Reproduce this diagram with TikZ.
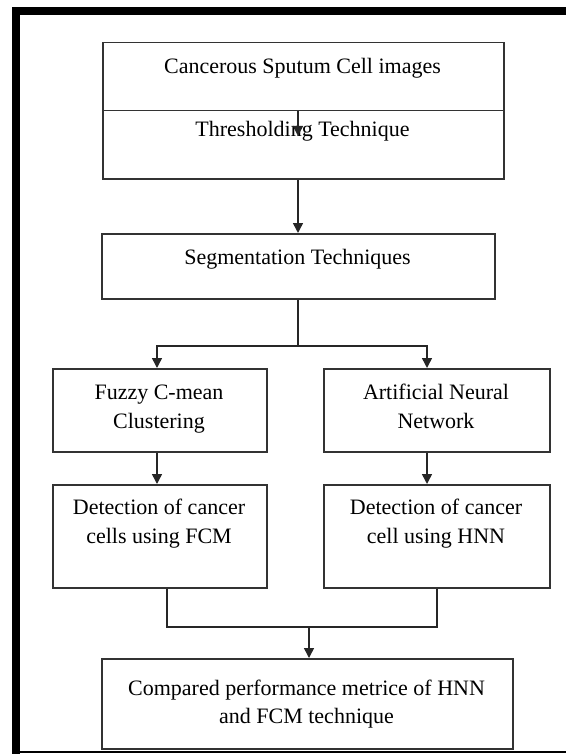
\documentclass[tikz,border=0pt]{standalone}
\usepackage{fontspec}
\setmainfont{Liberation Serif}
\usetikzlibrary{arrows.meta}

\begin{document}
\begin{tikzpicture}[x=1pt,y=-1pt,
  box/.style={draw=black!80, line width=1.5pt, rectangle, inner sep=0pt, anchor=north west},
  txt/.style={anchor=base, inner sep=0pt, font=\fontsize{22}{28}\selectfont},
  link/.style={draw=black!85, line width=1.5pt},
  arr/.style={link, -{Triangle[width=10pt,length=10pt]}},
  frame/.style={fill=black, draw=none}]
\useasboundingbox (0,0) rectangle (566,754);

% heavy frame on the top and left, thin rule at the bottom
\fill[frame] (12,7) rectangle (566,15);
\fill[frame] (12,7) rectangle (20,754);
\fill[frame] (12,751) rectangle (566,753);

% boxes
\node[box, minimum width=401pt, minimum height=68pt] (img) at (102,42) {};
\node[box, minimum width=401pt, minimum height=68pt] (thr) at (102,110) {};
\node[box, minimum width=393pt, minimum height=65pt] (seg) at (101,233) {};
\node[box, minimum width=214pt, minimum height=83pt] (fcm) at (52,368) {};
\node[box, minimum width=226pt, minimum height=83pt] (ann) at (323,368) {};
\node[box, minimum width=214pt, minimum height=103pt] (detf) at (52,484) {};
\node[box, minimum width=226pt, minimum height=103pt] (deth) at (323,484) {};
\node[box, minimum width=411pt, minimum height=90pt] (cmp) at (101,658) {};

% labels
\node[txt] (imgT) at (302.5,74) {Cancerous Sputum Cell images};
\node[txt] (thrT) at (302.5,137) {Thresholding Technique};
\node[txt] (segT) at (297.5,264) {Segmentation Techniques};
\node[txt] (fcmA) at (159,399) {Fuzzy C-mean};
\node[txt] (fcmB) at (159,428) {Clustering};
\node[txt] (annA) at (436,399) {Artificial Neural};
\node[txt] (annB) at (436,428) {Network};
\node[txt] (detfA) at (159,514) {Detection of cancer};
\node[txt] (detfB) at (159,543) {cells using FCM};
\node[txt] (dethA) at (436,514) {Detection of cancer};
\node[txt] (dethB) at (436,543) {cell using HNN};
\node[txt] (cmpA) at (306.5,695) {Compared performance metrice of HNN};
\node[txt] (cmpB) at (306.5,723) {and FCM technique};

% routing points
\coordinate (spine) at (298,0);
\coordinate (thrTip) at (298,136);
\coordinate (split) at (298,346);
\coordinate (leftCol) at (157,0);
\coordinate (rightCol) at (427,0);
\coordinate (leftOut) at (167,0);
\coordinate (rightOut) at (437,0);
\coordinate (merge) at (309,627);

% connectors
\draw[arr] (img.south -| spine) -- (thrTip);
\draw[arr] (thr.south -| spine) -- (seg.north -| spine);
\draw[link] (seg.south -| spine) -- (split);
\draw[arr] (split) -| (fcm.north -| leftCol);
\draw[arr] (split) -| (ann.north -| rightCol);
\draw[arr] (fcm.south -| leftCol) -- (detf.north -| leftCol);
\draw[arr] (ann.south -| rightCol) -- (deth.north -| rightCol);
\draw[link] (detf.south -| leftOut) |- (merge) -| (deth.south -| rightOut);
\draw[arr] (merge) -- (cmp.north -| merge);
\end{tikzpicture}
\end{document}
